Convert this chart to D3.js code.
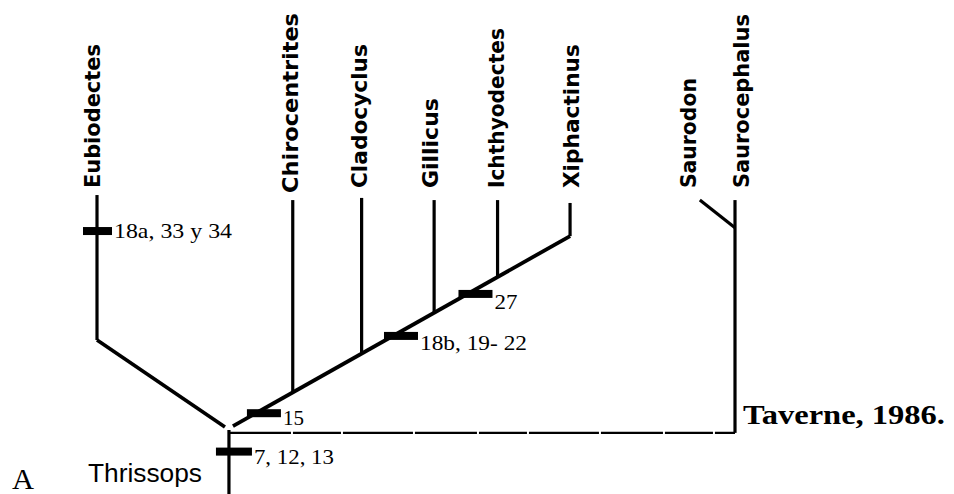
<!DOCTYPE html>
<html>
<head>
<meta charset="utf-8">
<script src="https://cdn.jsdelivr.net/npm/d3@7"></script>
<style>
  html, body { margin: 0; padding: 0; background: #fff; }
  svg { display: block; }
</style>
</head>
<body>
<svg id="chart" width="954" height="494"></svg>
<script>
// ---- data: the cladogram (Taverne, 1986) ----
const taxa = ["Eubiodectes", "Chirocentrites", "Cladocyclus", "Gillicus", "Ichthyodectes", "Xiphactinus", "Saurodon", "Saurocephalus"];
// horizontal column of each terminal taxon along the cladogram
const tipColumn = [0, 5.4, 7.3, 9.3, 11.05, 13.05, 16.63, 17.6];
// depth (steps from the root) reached by each terminal branch
const tipDepth = [97.9, 95.8, 96.7, 95.8, 95.8, 94.6, 95.8, 95.8];
// the branch each terminal hangs from
const tipParent = ["eubiodectesNode", "mainAxis", "mainAxis", "mainAxis", "mainAxis", "mainAxis", "saurodontidNode", "outgroup"];

// internal nodes
const nodeNames = ["root", "leftBranchStart", "eubiodectesNode", "axisStart", "axisEnd", "saurodontidNode", "outgroupLevel", "stemBase"];
const nodeColumn = [3.64, 3.53, 0, 3.75, 13.05, 17.6, 17.6, 3.64];
const nodeDepth = [0, 1.25, 37.5, 1.6, 80.8, 84.3, -1.2, -27];

// synapomorphies (character numbers) placed on branches
const characters = ["18a, 33 y  34", "15", "18b, 19- 22", "27", "7, 12, 13"];
const charBranch = ["Eubiodectes", "mainAxis", "mainAxis", "mainAxis", "stem"];
const charDepth = [82.9, 7.0, 39.2, 56.7, -9.0];

const outgroupLabel = "Thrissops";
const panelLabel = "A";
const sourceLabel = "Taverne, 1986.";

// ---- scales ----
const x = d3.scaleLinear().domain([0, 17.6]).range([97, 735]);
const y = d3.scaleLinear().domain([0, 100]).range([430, 190]);

const svg = d3.select("#chart");
const node = name => {
  const i = nodeNames.indexOf(name);
  return { c: nodeColumn[i], d: nodeDepth[i] };
};
const aS = node("axisStart"), aE = node("axisEnd");
const axisDepthAt = c => aS.d + (c - aS.c) * (aE.d - aS.d) / (aE.c - aS.c);
const axisColAt = d => aS.c + (d - aS.d) * (aE.c - aS.c) / (aE.d - aS.d);

// ---- branch segments ----
const segs = [];
const root = node("root"), lb = node("leftBranchStart"), eb = node("eubiodectesNode");
const sd = node("saurodontidNode"), og = node("outgroupLevel"), sb = node("stemBase");
segs.push({ a: [root.c, root.d], b: [sb.c, sb.d], w: 3.2 });                         // root stem
segs.push({ a: [root.c, og.d], b: [og.c, og.d], w: 2.2, dash: "62,2,48,2,70,2" });   // outgroup link
segs.push({ a: [lb.c, lb.d], b: [eb.c, eb.d], w: 3.6 });                             // to Eubiodectes
segs.push({ a: [aS.c, aS.d], b: [aE.c, aE.d], w: 3.8 });                             // main axis
taxa.forEach((t, i) => {
  const p = tipParent[i];
  let start;
  if (p === "mainAxis") start = [tipColumn[i], axisDepthAt(tipColumn[i])];
  else if (p === "eubiodectesNode") start = [eb.c, eb.d];
  else if (p === "saurodontidNode") start = [sd.c, sd.d];
  else start = [og.c, og.d];
  segs.push({ a: start, b: [tipColumn[i], tipDepth[i]], w: 3.2 });
});

svg.append("g").selectAll("line").data(segs).join("line")
  .attr("x1", d => x(d.a[0])).attr("y1", d => y(d.a[1]))
  .attr("x2", d => x(d.b[0])).attr("y2", d => y(d.b[1]))
  .attr("stroke", "#000").attr("stroke-width", d => d.w)
  .attr("stroke-dasharray", d => d.dash || null)
  .attr("stroke-linecap", "butt");

// ---- taxon labels (rotated) ----
const labelDx = { Eubiodectes: -5, Chirocentrites: -2, Cladocyclus: -2, Gillicus: -4, Ichthyodectes: -1, Xiphactinus: 1, Saurodon: -11, Saurocephalus: 6 };
const labelY = { Chirocentrites: 193 };
const labelLen = { Eubiodectes: 144, Chirocentrites: 180, Cladocyclus: 144, Gillicus: 90, Ichthyodectes: 160, Xiphactinus: 144, Saurodon: 110, Saurocephalus: 174 };
svg.append("g").selectAll("text").data(taxa).join("text")
  .attr("transform", (t, i) => {
    const lx = x(tipColumn[i]) + labelDx[t];
    const ly = labelY[t] || y(100.8);
    return `translate(${lx},${ly}) rotate(-90)`;
  })
  .attr("dominant-baseline", "central")
  .attr("text-anchor", "start")
  .attr("font-family", "'DejaVu Sans Condensed', 'DejaVu Sans', sans-serif")
  .attr("font-weight", "bold")
  .attr("font-size", 22)
  .attr("textLength", t => labelLen[t])
  .attr("lengthAdjust", "spacingAndGlyphs")
  .attr("fill", "#000")
  .text(t => t);

// ---- character bars and numbers ----
const barOffset = { Eubiodectes: [-14, 15], stem: [-13, 23], mainAxis: [-9, 25] };
const charDy = [6.5, 12, 14, 15, 12];
const charLen = [118, 21, 107, 23, 80];
const marks = characters.map((lab, i) => {
  const br = charBranch[i];
  let cx;
  if (br === "mainAxis") cx = x(axisColAt(charDepth[i]));
  else if (br === "stem") cx = x(root.c);
  else cx = x(tipColumn[taxa.indexOf(br)]);
  const off = barOffset[br] || barOffset.Eubiodectes;
  return { lab, cx, cy: y(charDepth[i]), x0: cx + off[0], x1: cx + off[1], dy: charDy[i], len: charLen[i] };
});
const mg = svg.append("g");
mg.selectAll("rect").data(marks).join("rect")
  .attr("x", d => d.x0).attr("y", d => d.cy - 4)
  .attr("width", d => d.x1 - d.x0).attr("height", 8)
  .attr("fill", "#000");
mg.selectAll("text").data(marks).join("text")
  .attr("x", d => d.x1 + 2).attr("y", d => d.cy + d.dy)
  .attr("font-family", "'Liberation Serif', 'Times New Roman', serif")
  .attr("font-size", 22)
  .attr("textLength", d => d.len)
  .attr("lengthAdjust", "spacingAndGlyphs")
  .attr("fill", "#000")
  .text(d => d.lab);

// ---- other text ----
svg.append("text").attr("x", 88).attr("y", 482)
  .attr("font-family", "'Liberation Sans', Arial, sans-serif")
  .attr("font-size", 25).attr("textLength", 114).attr("lengthAdjust", "spacingAndGlyphs")
  .text(outgroupLabel);
svg.append("text").attr("x", 12).attr("y", 489)
  .attr("font-family", "'Liberation Serif', 'Times New Roman', serif")
  .attr("font-size", 30).attr("textLength", 22).attr("lengthAdjust", "spacingAndGlyphs")
  .text(panelLabel);
svg.append("text").attr("x", 743).attr("y", 424)
  .attr("font-family", "'Liberation Serif', 'Times New Roman', serif")
  .attr("font-weight", "bold")
  .attr("font-size", 27).attr("textLength", 202).attr("lengthAdjust", "spacingAndGlyphs")
  .text(sourceLabel);
</script>
</body>
</html>
